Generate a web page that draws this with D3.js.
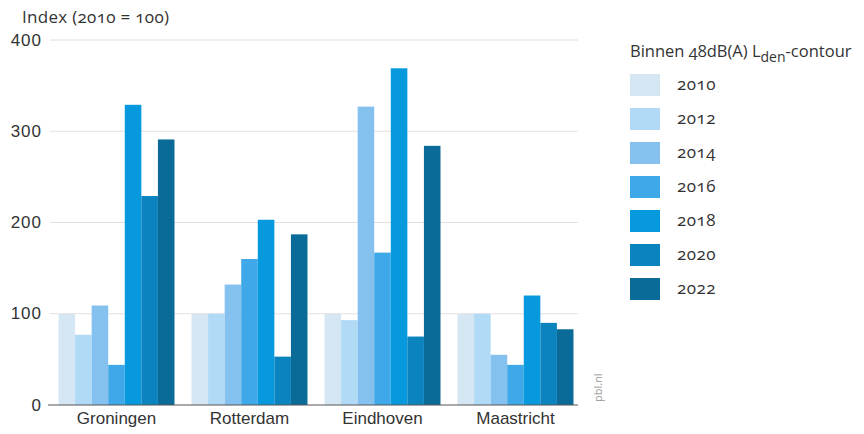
<!DOCTYPE html>
<html>
<head>
<meta charset="utf-8">
<script src="https://cdn.jsdelivr.net/npm/d3@7"></script>
<style>
  body { margin: 0; background: #fff; }
  svg { font-family: "Open Sans", "Noto Sans", sans-serif; font-variant-numeric: oldstyle-nums; }
</style>
</head>
<body>
<svg id="chart" width="864" height="434"></svg>
<script>
const categories = ["Groningen", "Rotterdam", "Eindhoven", "Maastricht"];
const years = ["2010", "2012", "2014", "2016", "2018", "2020", "2022"];
const v2010 = [100, 100, 100, 100];
const v2012 = [77, 100, 93, 100];
const v2014 = [109, 132, 327, 55];
const v2016 = [44, 160, 167, 44];
const v2018 = [329, 203, 369, 120];
const v2020 = [229, 53, 75, 90];
const v2022 = [291, 187, 284, 83];
const yTicks = [0, 100, 200, 300, 400];
const colors = ["#d5e7f3", "#b1daf6", "#85c1ef", "#3fa8e9", "#0699dd", "#0a83bf", "#0a6b99"];

const seriesValues = [v2010, v2012, v2014, v2016, v2018, v2020, v2022];

const svg = d3.select("#chart");
const x0 = d3.scaleBand().domain(categories).range([50, 582]).paddingInner(0.128).paddingOuter(0.064);
const x1 = d3.scaleBand().domain(years).range([0, x0.bandwidth()]).padding(0);
const y = d3.scaleLinear().domain([0, 400]).range([405, 40]);
const color = d3.scaleOrdinal().domain(years).range(colors);

// gridlines
svg.append("g").selectAll("line").data(yTicks.filter(d => d > 0)).join("line")
  .attr("x1", 50).attr("x2", 578)
  .attr("y1", d => y(d)).attr("y2", d => y(d))
  .attr("stroke", "#e6dede").attr("stroke-width", 1);

// y axis labels
const yAxis = d3.axisLeft(y).tickValues(yTicks).tickSize(0).tickPadding(0);
const gy = svg.append("g").attr("transform", "translate(42,0)").call(yAxis);
gy.select(".domain").remove();
gy.selectAll("text").attr("font-size", 17).attr("fill", "#333").attr("dy", "0.3em")
  .attr("letter-spacing", 1);

// bars
const groups = svg.append("g").selectAll("g").data(categories).join("g")
  .attr("transform", d => `translate(${x0(d)},0)`);
groups.selectAll("rect")
  .data((c, ci) => years.map((yr, yi) => ({ yr, v: seriesValues[yi][ci] })))
  .join("rect")
  .attr("x", d => x1(d.yr))
  .attr("width", x1.bandwidth())
  .attr("y", d => y(d.v))
  .attr("height", d => y(0) - y(d.v))
  .attr("fill", d => color(d.yr));

// baseline
svg.append("line").attr("x1", 48).attr("x2", 578).attr("y1", y(0)).attr("y2", y(0))
  .attr("stroke", "#555").attr("stroke-width", 1);

// x axis labels
const xAxis = d3.axisBottom(x0).tickSize(0).tickPadding(7);
const gx = svg.append("g").attr("transform", `translate(0,${y(0)})`).call(xAxis);
gx.select(".domain").remove();
gx.selectAll("text").attr("font-size", 17).attr("fill", "#333");

// y title
svg.append("text").attr("x", 22).attr("y", 23).attr("font-size", 17).attr("fill", "#333")
  .attr("letter-spacing", 0.3)
  .text("Index (2010 = 100)");

// source
svg.append("text").attr("transform", "translate(602,402) rotate(-90)")
  .attr("font-size", 11).attr("fill", "#9a9a9a").text("pbl.nl");

// legend
const legend = svg.append("g").attr("transform", "translate(630,0)");
const title = legend.append("text").attr("x", 0).attr("y", 57).attr("font-size", 16.5).attr("fill", "#333");
title.append("tspan").text("Binnen 48dB(A) L");
title.append("tspan").attr("dy", 5).attr("font-size", 14).text("den");
title.append("tspan").attr("dy", -5).text("-contour");
const items = legend.selectAll("g.item").data(years).join("g").attr("class", "item")
  .attr("transform", (d, i) => `translate(0,${74 + i * 34})`);
items.append("rect").attr("width", 30).attr("height", 22).attr("fill", d => color(d));
items.append("text").attr("x", 47).attr("y", 11).attr("dy", "0.3em")
  .attr("font-size", 17).attr("fill", "#333").attr("letter-spacing", 0.5).text(d => d);
</script>
</body>
</html>
